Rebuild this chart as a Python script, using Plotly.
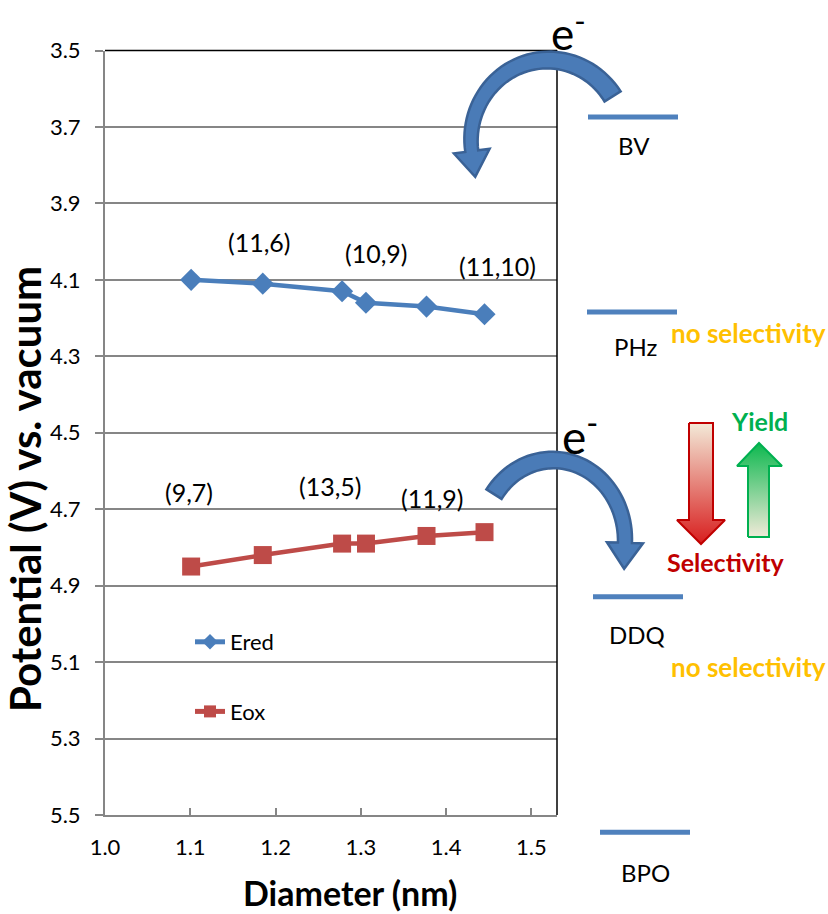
import math
import plotly.graph_objects as go

# ---------------- data ----------------
diameter_nm = [1.101, 1.185, 1.278, 1.306, 1.377, 1.445]
ered_v = [4.10, 4.11, 4.13, 4.16, 4.17, 4.19]
eox_v = [4.85, 4.82, 4.79, 4.79, 4.77, 4.76]

ered_label_idx = [1, 3, 5]
ered_label_text = ["(11,6)", "(10,9)", "(11,10)"]
eox_label_idx = [0, 2, 4]
eox_label_text = ["(9,7)", "(13,5)", "(11,9)"]

acceptor_names = ["BV", "PHz", "DDQ", "BPO"]
acceptor_potential = [3.674, 4.184, 4.929, 5.545]

y_tick_vals = [3.5, 3.7, 3.9, 4.1, 4.3, 4.5, 4.7, 4.9, 5.1, 5.3, 5.5]
x_tick_vals = [1.0, 1.1, 1.2, 1.3, 1.4, 1.5]

# ---------------- layout geometry (pixels) ----------------
W, H = 828, 914
PX_L, PX_R = 105, 557
PX_T, PX_B = 50.5, 815
X_MIN, X_MAX = 1.0, 1.53
Y_MIN, Y_MAX = 3.5, 5.5
FONT = "Lato, 'Open Sans', sans-serif"
GRAY = "#868686"
BLUE = "#4A7EBB"
RED = "#BE4B48"


def pot_at_px(p):
    return Y_MIN + (p - PX_T) / (PX_B - PX_T) * (Y_MAX - Y_MIN)


def fx(p):
    return p / W


def fy(p):
    return 1 - p / H


fig = go.Figure()

fig.add_trace(go.Scatter(
    x=diameter_nm, y=ered_v, mode="lines+markers", name="Ered",
    line=dict(color=BLUE, width=4.5),
    marker=dict(symbol="diamond", size=17, color=BLUE),
    legendgroup="a"))
fig.add_trace(go.Scatter(
    x=diameter_nm, y=eox_v, mode="lines+markers", name="Eox",
    line=dict(color=RED, width=4.5),
    marker=dict(symbol="square", size=18, color=RED),
    legendgroup="b"))

# acceptor levels on a right-hand panel sharing the potential scale
LEVEL_X_PX = [(588, 678), (587, 677), (593, 683), (600, 690)]
LEVEL_LABEL_X = [634, 635, 637, 645]
LEVEL_LABEL_SHIFT = [-28, -35, -38, -40]
lx, ly = [], []
for v, (a, b) in zip(acceptor_potential, LEVEL_X_PX):
    lx += [a, b, None]
    ly += [v, v, None]
fig.add_trace(go.Scatter(
    x=lx, y=ly, xaxis="x2", yaxis="y2", mode="lines",
    line=dict(color="#4F81BD", width=5), showlegend=False, hoverinfo="skip"))

# gradient block arrows (decorative, pixel coordinates)
red_arrow = [(689, 423), (713, 423), (713, 520), (725, 520), (701, 544),
             (677, 520), (689, 520), (689, 423)]
green_arrow = [(748, 537), (769, 537), (769, 466), (782, 466), (759, 443),
               (737, 466), (748, 466), (748, 537)]
fig.add_trace(go.Scatter(
    x=[p[0] for p in red_arrow], y=[p[1] for p in red_arrow],
    xaxis="x2", yaxis="y3", mode="lines", fill="toself",
    line=dict(color="#C00000", width=2),
    fillgradient=dict(type="vertical", start=423, stop=544,
                      colorscale=[[0, "#F3EAD8"], [1, "#D81E1E"]]),
    showlegend=False, hoverinfo="skip"))
fig.add_trace(go.Scatter(
    x=[p[0] for p in green_arrow], y=[p[1] for p in green_arrow],
    xaxis="x2", yaxis="y3", mode="lines", fill="toself",
    line=dict(color="#00B050", width=2),
    fillgradient=dict(type="vertical", start=443, stop=537,
                      colorscale=[[0, "#0DB84F"], [1, "#F0EAD8"]]),
    showlegend=False, hoverinfo="skip"))


def curved_arrow(cx, cy, rx, ry, th0, th1, w0, w1, head_w, head_len, n=48):
    sgn = 1 if th1 > th0 else -1
    left, right = [], []
    for i in range(n + 1):
        s = i / n
        th = math.radians(th0 + (th1 - th0) * s)
        px, py = cx + rx * math.cos(th), cy + ry * math.sin(th)
        tx, ty = -rx * math.sin(th) * sgn, ry * math.cos(th) * sgn
        L = math.hypot(tx, ty)
        tx, ty = tx / L, ty / L
        nx, ny = -ty, tx
        w = (w0 + (w1 - w0) * s) / 2
        left.append((px + nx * w, py + ny * w))
        right.append((px - nx * w, py - ny * w))
    pts = left[:]
    pts.append((px + nx * head_w / 2, py + ny * head_w / 2))
    pts.append((px + tx * head_len, py + ty * head_len))
    pts.append((px - nx * head_w / 2, py - ny * head_w / 2))
    pts += right[::-1]
    d = "M " + " L ".join(f"{fx(x):.5f},{fy(y):.5f}" for x, y in pts) + " Z"
    return d


shapes = [
    dict(type="line", xref="x domain", yref="y domain", x0=0, x1=1, y0=1, y1=1,
         line=dict(color="black", width=1.5)),
    dict(type="line", xref="x domain", yref="y domain", x0=1, x1=1, y0=0, y1=1,
         line=dict(color="black", width=1.5)),
    dict(type="path", xref="paper", yref="paper",
         path=curved_arrow(548, 140, 77, 80, -33, -188, 19, 13, 36, 26),
         fillcolor="#4A7BB7", line=dict(color="#3A6296", width=2.5)),
    dict(type="path", xref="paper", yref="paper",
         path=curved_arrow(553, 540, 72, 80, -145, 2, 18, 14, 36, 26),
         fillcolor="#4A7BB7", line=dict(color="#3A6296", width=2.5)),
]

annotations = []
ered_shift = [(-3, 42), (11, 50), (13, 48)]
for i, t, (dx, dy) in zip(ered_label_idx, ered_label_text, ered_shift):
    annotations.append(dict(x=diameter_nm[i], y=ered_v[i], xref="x", yref="y",
                            text=t, showarrow=False, xshift=dx, yshift=dy,
                            font=dict(size=25, color="black", family=FONT)))
eox_shift = [(-2, 75), (-12, 58), (6, 38)]
for i, t, (dx, dy) in zip(eox_label_idx, eox_label_text, eox_shift):
    annotations.append(dict(x=diameter_nm[i], y=eox_v[i], xref="x", yref="y",
                            text=t, showarrow=False, xshift=dx, yshift=dy,
                            font=dict(size=25, color="black", family=FONT)))
for name, v, xc, sh in zip(acceptor_names, acceptor_potential, LEVEL_LABEL_X, LEVEL_LABEL_SHIFT):
    annotations.append(dict(x=xc, y=v, xref="x2", yref="y2", text=name,
                            showarrow=False, yshift=sh,
                            font=dict(size=24, color="black", family=FONT)))


def pann(text, x, y, size, color="black", bold=False, angle=0, yanchor="middle"):
    if bold:
        text = "<b>" + text + "</b>"
    return dict(x=fx(x), y=fy(y), xref="paper", yref="paper", text=text,
                showarrow=False, textangle=angle, xanchor="center", yanchor=yanchor,
                font=dict(size=size, color=color, family=FONT))


annotations += [
    pann("e<sup>-</sup>", 568, 0, 44, yanchor="top"),
    pann("e<sup>-</sup>", 580, 434, 46),
    pann("no selectivity", 748, 333, 26, "#FFC000", True),
    pann("no selectivity", 748, 667, 26, "#FFC000", True),
    pann("Selectivity", 726, 562, 25, "#C00000", True),
    pann("Yield", 759, 421, 25, "#00B050", True),
    pann("Diameter (nm)", 350, 892, 34, bold=True),
    pann("Potential (V) vs. vacuum", 25, 489, 42, bold=True, angle=-90),
]

fig.update_layout(
    width=W, height=H,
    margin=dict(l=0, r=0, t=0, b=0),
    paper_bgcolor="white", plot_bgcolor="white",
    font=dict(family=FONT, color="black"),
    showlegend=True,
    legend=dict(x=fx(190), y=fy(621), xanchor="left", yanchor="top",
                font=dict(size=22, family=FONT), bgcolor="rgba(0,0,0,0)",
                itemsizing="constant", traceorder="grouped", tracegroupgap=38),
    xaxis=dict(domain=[PX_L / W, PX_R / W], range=[X_MIN, X_MAX], anchor="y",
               tickvals=x_tick_vals, ticktext=[f"{v:.1f}" for v in x_tick_vals],
               ticks="inside", ticklen=7, tickwidth=1.5, tickcolor=GRAY,
               showline=True, linecolor=GRAY, linewidth=2, showgrid=False,
               zeroline=False, tickfont=dict(size=22), automargin=False,
               ticklabelstandoff=12),
    yaxis=dict(domain=[1 - PX_B / H, 1 - PX_T / H], range=[Y_MAX, Y_MIN], anchor="x",
               tickvals=y_tick_vals, ticktext=[f"{v:.1f}" for v in y_tick_vals],
               ticks="outside", ticklen=8, tickwidth=1.5, tickcolor=GRAY,
               showline=True, linecolor=GRAY, linewidth=2, showgrid=True,
               gridcolor=GRAY, gridwidth=1.5, zeroline=False,
               tickfont=dict(size=22), automargin=False, ticklabelstandoff=10),
    xaxis2=dict(domain=[560 / W, 1], range=[560, W], anchor="y2", visible=False,
                fixedrange=True),
    yaxis2=dict(domain=[0, 1], range=[pot_at_px(H), pot_at_px(0)], anchor="x2",
                visible=False, fixedrange=True),
    yaxis3=dict(range=[H, 0], anchor="x2", overlaying="y2", visible=False,
                fixedrange=True),
    shapes=shapes,
    annotations=annotations,
)

fig.write_html("out.html", config={"displayModeBar": False},
               post_script="document.body.style.margin='0';document.body.style.padding='0';")
